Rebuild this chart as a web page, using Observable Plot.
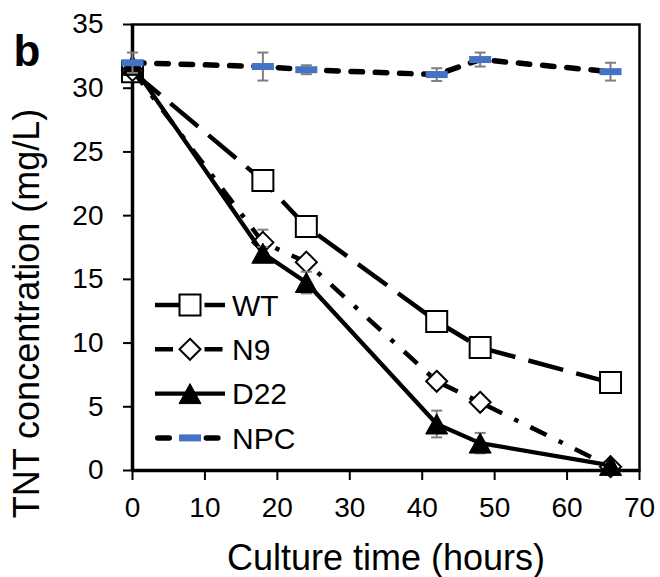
<!DOCTYPE html>
<html><head><meta charset="utf-8">
<script src="https://cdn.jsdelivr.net/npm/d3@7"></script>
<script src="https://cdn.jsdelivr.net/npm/@observablehq/plot@0.6"></script>
<style>
body{margin:0;background:#fff;}
#wrap{position:relative;width:660px;height:577px;font-family:"Liberation Sans",Arial,sans-serif;}
</style></head><body><div id="wrap"></div>
<script>
// ---- data ----
const times = [0, 18, 24, 42, 48, 66];
const seriesNames = ["WT", "N9", "D22", "NPC"];
const wtValues  = [31.3, 22.75, 19.15, 11.7, 9.65, 6.9];
const n9Values  = [31.4, 17.9, 16.35, 7.0, 5.35, 0.3];
const d22Values = [31.8, 17.05, 14.75, 3.65, 2.15, 0.4];
const npcValues = [32.0, 31.7, 31.45, 31.07, 32.25, 31.3];
const wtErr  = [0.3, 0.5, 0.4, 0.6, 0.4, 0.3];
const n9Err  = [0.3, 1.0, 0.4, 0.5, 0.4, 0.2];
const d22Err = [0.3, 0.5, 0.85, 1.05, 0.8, 0.2];
const npcErr = [0.8, 1.1, 0.35, 0.5, 0.55, 0.7];
const xTicks = [0, 10, 20, 30, 40, 50, 60, 70];
const yTicks = [0, 5, 10, 15, 20, 25, 30, 35];
const xTitle = "Culture time (hours)";
const yTitle = "TNT concentration (mg/L)";
const panelLabel = "b";

// ---- styles ----
const sym = {
  square: {draw(c){c.moveTo(-10.5,-10.5);c.lineTo(10.5,-10.5);c.lineTo(10.5,10.5);c.lineTo(-10.5,10.5);c.closePath();}},
  diamond: {draw(c){c.moveTo(0,-10.5);c.lineTo(10.5,0);c.lineTo(0,10.5);c.lineTo(-10.5,0);c.closePath();}},
  triangle: {draw(c){c.moveTo(0,-10);c.lineTo(11,10);c.lineTo(-11,10);c.closePath();}},
  bar: {draw(c){c.moveTo(-11,-3.5);c.lineTo(11,-3.5);c.lineTo(11,3.5);c.lineTo(-11,3.5);c.closePath();}},
  cap: {draw(c){c.moveTo(-5.5,0);c.lineTo(5.5,0);}}
};
const styles = {
  WT:  {dash:"36,13.5", width:4.5, cap:"butt", symbol:sym.square, fill:"white", stroke:"black", sw:2},
  N9:  {dash:"18,13.5,4.5,13.5", width:4.5, cap:"butt", symbol:sym.diamond, fill:"white", stroke:"black", sw:2},
  D22: {dash:"none", width:4.25, cap:"butt", symbol:sym.triangle, fill:"black", stroke:"black", sw:1},
  NPC: {dash:"11.5,12.8", width:5.5, cap:"round", symbol:sym.bar, fill:"#4472C4", stroke:"none", sw:0}
};
const FONT = '"Liberation Sans", Arial, sans-serif';

const valuesBySeries = {WT: wtValues, N9: n9Values, D22: d22Values, NPC: npcValues};
const errBySeries = {WT: wtErr, N9: n9Err, D22: d22Err, NPC: npcErr};
const table = name => times.map((t, i) => ({series: name, t, v: valuesBySeries[name][i], e: errBySeries[name][i]}));

const seriesMarks = seriesNames.flatMap(name => {
  const s = styles[name];
  const data = table(name);
  const caps = data.flatMap(d => [{t: d.t, y: d.v - d.e}, {t: d.t, y: d.v + d.e}]);
  return [
    Plot.line(data, {x: "t", y: "v", stroke: "black", strokeWidth: s.width, strokeDasharray: s.dash, strokeLinecap: s.cap, strokeLinejoin: "round"}),
    Plot.ruleX(data, {x: "t", y1: d => d.v - d.e, y2: d => d.v + d.e, stroke: "#7f7f7f", strokeWidth: 2}),
    Plot.dot(caps, {x: "t", y: "y", r: 1, symbol: sym.cap, stroke: "#7f7f7f", strokeWidth: 2, fill: "none"}),
    Plot.dot(data, {x: "t", y: "v", r: 1, symbol: s.symbol, fill: s.fill, stroke: s.stroke, strokeWidth: s.sw})
  ];
});

const chart = Plot.plot({
  width: 660, height: 577,
  marginLeft: 132, marginRight: 21, marginTop: 24, marginBottom: 107,
  style: {fontFamily: FONT, background: "white", color: "black"},
  x: {domain: [0, 70]},
  y: {domain: [0, 35]},
  marks: [
    Plot.frame({stroke: "black", strokeWidth: 2.5}),
    Plot.axisX({ticks: xTicks, tickSize: 10, tickPadding: 17, fontSize: 28, strokeWidth: 2, tickFormat: d => d, label: null}),
    Plot.axisY({ticks: yTicks, tickSize: 9, tickPadding: 20, fontSize: 28, strokeWidth: 2, tickFormat: d => d, label: null}),
    Plot.ruleX([0], {stroke: "black", strokeWidth: 3.5}),
    Plot.ruleY([0], {stroke: "black", strokeWidth: 3.5}),
    ...seriesMarks,
    Plot.text([xTitle], {frameAnchor: "bottom", dy: 88, textAnchor: "middle", lineAnchor: "middle", fontSize: 36, fill: "black"}),
    Plot.text([yTitle], {frameAnchor: "left", dx: -105, dy: 66, rotate: -90, textAnchor: "middle", lineAnchor: "middle", fontSize: 36, fill: "black"}),
    Plot.text([panelLabel], {frameAnchor: "top-left", dx: -119, dy: 27, textAnchor: "start", lineAnchor: "middle", fontSize: 44, fontWeight: "bold", fill: "black"})
  ]
});
document.getElementById("wrap").appendChild(chart);

// ---- legend overlay ----
const lsvg = d3.select("#wrap").append("svg")
  .attr("width", 660).attr("height", 577)
  .style("position", "absolute").style("left", 0).style("top", 0)
  .style("pointer-events", "none");
seriesNames.forEach((name, i) => {
  const s = styles[name];
  const y = 305 + i * 44.3;
  const g = lsvg.append("g");
  g.append("line").attr("x1", name === "NPC" ? 157.75 : 155).attr("x2", 225).attr("y1", y).attr("y2", y)
    .attr("stroke", "black").attr("stroke-width", s.width)
    .attr("stroke-dasharray", s.dash).attr("stroke-linecap", s.cap);
  g.append("path").attr("transform", `translate(190,${y})`)
    .attr("d", d3.symbol(s.symbol)())
    .attr("fill", s.fill).attr("stroke", s.stroke).attr("stroke-width", s.sw);
  g.append("text").attr("x", 232).attr("y", y).attr("dy", "0.36em")
    .attr("font-family", FONT).attr("font-size", 30).attr("fill", "black").text(name);
});
</script></body></html>
